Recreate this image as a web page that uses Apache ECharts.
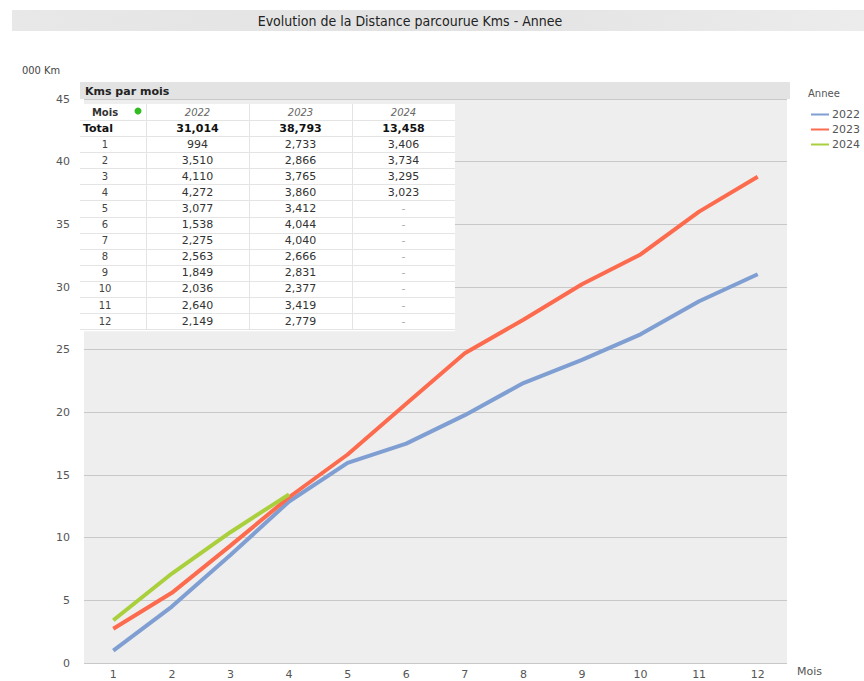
<!DOCTYPE html>
<html>
<head>
<meta charset="utf-8">
<script src="https://cdn.jsdelivr.net/npm/echarts@6/dist/echarts.min.js"></script>
<style>html,body{margin:0;padding:0;background:#fff;}#c{width:864px;height:681px;}</style>
</head>
<body>
<div id="c"></div>
<script>
// ---- data ----
const months = ['1','2','3','4','5','6','7','8','9','10','11','12'];
const years = ['2022','2023','2024'];
// cumulative distance (thousand km), as plotted
const cum2022 = [0.994, 4.504, 8.614, 12.886, 15.963, 17.501, 19.776, 22.339, 24.188, 26.224, 28.864, 31.013];
const cum2023 = [2.733, 5.599, 9.364, 13.224, 16.636, 20.680, 24.720, 27.386, 30.217, 32.594, 36.013, 38.792];
const cum2024 = [3.406, 7.140, 10.435, 13.458];
// monthly table values
const monthly2022 = ['994','3,510','4,110','4,272','3,077','1,538','2,275','2,563','1,849','2,036','2,640','2,149'];
const monthly2023 = ['2,733','2,866','3,765','3,860','3,412','4,044','4,040','2,666','2,831','2,377','3,419','2,779'];
const monthly2024 = ['3,406','3,734','3,295','3,023','-','-','-','-','-','-','-','-'];
const totals = ['31,014','38,793','13,458'];
const yTicks = [0,5,10,15,20,25,30,35,40,45];

const colors = ['#7f9ed2', '#fd6b4e', '#a9d03c'];
const FONT = 'DejaVu Sans';

// ---- table graphics ----
const colX = [80, 146, 249, 352, 455];
const tableTop = 104, headH = 16, rowH = 16.1;
const g = [];
// title bar
g.push({type:'rect', shape:{x:12,y:10,width:852,height:21}, style:{fill:new echarts.graphic.LinearGradient(0,0,1,0,[{offset:0,color:'#e8e8e8'},{offset:0.5,color:'#e2e2e2'},{offset:1,color:'#ececec'}])}, z:1});
g.push({type:'text', x:410, y:20.5, style:{text:'Evolution de la Distance parcourue Kms - Annee', font:'14px "DejaVu Sans Condensed", "'+FONT+'"', fill:'#222', textAlign:'center', textVerticalAlign:'middle'}, z:2});
g.push({type:'text', x:22, y:70, style:{text:'000 Km', font:'11px "DejaVu Sans Condensed", "'+FONT+'"', fill:'#444', textAlign:'left', textVerticalAlign:'middle'}});
// header bar over plot
g.push({type:'rect', shape:{x:80,y:82,width:710,height:17}, style:{fill:'#e3e3e3'}, z:1});
g.push({type:'text', x:85, y:91, style:{text:'Kms par mois', font:'bold 11px "'+FONT+'"', fill:'#222', textAlign:'left', textVerticalAlign:'middle'}, z:5});
const tableBottom = tableTop + headH * 2 + rowH * months.length;
g.push({type:'rect', shape:{x:colX[0], y:tableTop, width:colX[4]-colX[0], height:tableBottom-tableTop+2}, style:{fill:'#ffffff'}, z:3});
// horizontal separators
for (let i = 0; i <= months.length; i++) {
  const y = Math.round(tableTop + headH*2 + rowH*i) + 0.5;
  g.push({type:'line', shape:{x1:colX[0], y1:y, x2:colX[4], y2:y}, style:{stroke:'#e4e4e4', lineWidth:1}, z:4});
}
g.push({type:'line', shape:{x1:colX[0], y1:tableTop+headH+0.5, x2:colX[4], y2:tableTop+headH+0.5}, style:{stroke:'#e4e4e4', lineWidth:1}, z:4});
for (let c = 1; c < 4; c++) {
  g.push({type:'line', shape:{x1:colX[c]+0.5, y1:tableTop, x2:colX[c]+0.5, y2:tableBottom}, style:{stroke:'#e4e4e4', lineWidth:1}, z:4});
}
const cx = (c) => (colX[c] + colX[c+1]) / 2;
// header row
g.push({type:'text', x:105, y:tableTop+headH/2, style:{text:'Mois', font:'bold 10px "'+FONT+'"', fill:'#333', textAlign:'center', textVerticalAlign:'middle'}, z:5});
g.push({type:'circle', shape:{cx:138, cy:tableTop+headH/2-1, r:3.5}, style:{fill:'#33bb22'}, z:5});
years.forEach((yr, i) => {
  g.push({type:'text', x:cx(i+1), y:tableTop+headH/2, style:{text:yr, font:'italic 10px "'+FONT+'"', fill:'#666', textAlign:'center', textVerticalAlign:'middle'}, z:5});
});
// total row
g.push({type:'text', x:83, y:tableTop+headH*1.5, style:{text:'Total', font:'bold 11px "'+FONT+'"', fill:'#111', textAlign:'left', textVerticalAlign:'middle'}, z:5});
totals.forEach((t, i) => {
  g.push({type:'text', x:cx(i+1), y:tableTop+headH*1.5, style:{text:t, font:'bold 11px "'+FONT+'"', fill:'#111', textAlign:'center', textVerticalAlign:'middle'}, z:5});
});
const cols = [monthly2022, monthly2023, monthly2024];
months.forEach((m, r) => {
  const y = tableTop + headH*2 + rowH*r + rowH/2;
  g.push({type:'text', x:105, y:y, style:{text:m, font:'10px "'+FONT+'"', fill:'#444', textAlign:'center', textVerticalAlign:'middle'}, z:5});
  cols.forEach((arr, i) => {
    const v = arr[r];
    g.push({type:'text', x:cx(i+1), y:y, style:{text:v, font:'11px "'+FONT+'"', fill: v === '-' ? '#aaa' : '#333', textAlign:'center', textVerticalAlign:'middle'}, z:5});
  });
});
// legend title
g.push({type:'text', x:808, y:93, style:{text:'Annee', font:'10px "'+FONT+'"', fill:'#555', textAlign:'left', textVerticalAlign:'middle'}});

const chart = echarts.init(document.getElementById('c'), null, {renderer:'svg'});
chart.setOption({
  animation: false,
  color: colors,
  grid: {left:84, right:77, top:99, bottom:18, show:true, backgroundColor:'#eeeeee', borderWidth:0},
  xAxis: {
    type:'category', data: months, boundaryGap:true,
    name:'Mois', nameLocation:'end', nameGap:10,
    nameTextStyle:{color:'#555', fontSize:11, fontFamily:FONT, verticalAlign:'top', padding:[3,0,0,0]},
    axisLine:{show:false}, axisTick:{show:false},
    axisLabel:{color:'#555', fontSize:11, fontFamily:FONT, margin:6}
  },
  yAxis: {
    type:'value', min:yTicks[0], max:yTicks[yTicks.length-1], interval:5,
    axisLine:{show:false}, axisTick:{show:false},
    axisLabel:{color:'#555', fontSize:11, fontFamily:FONT, margin:14},
    splitLine:{lineStyle:{color:'#c8c8c8', width:1}}
  },
  legend: {
    orient:'vertical', left:806, top:104, itemGap:4, itemWidth:18, itemHeight:10,
    icon:'path://M0,4 L18,4 L18,6 L0,6 Z',
    textStyle:{color:'#555', fontSize:11, fontFamily:FONT, padding:[0,0,0,-2]},
    data: years
  },
  series: [
    {name:'2022', type:'line', data:cum2022, symbol:'none', lineStyle:{width:4}, z:2},
    {name:'2023', type:'line', data:cum2023, symbol:'none', lineStyle:{width:4}, z:3},
    {name:'2024', type:'line', data:cum2024, symbol:'none', lineStyle:{width:4}, z:4}
  ],
  graphic: g
});
</script>
</body>
</html>
